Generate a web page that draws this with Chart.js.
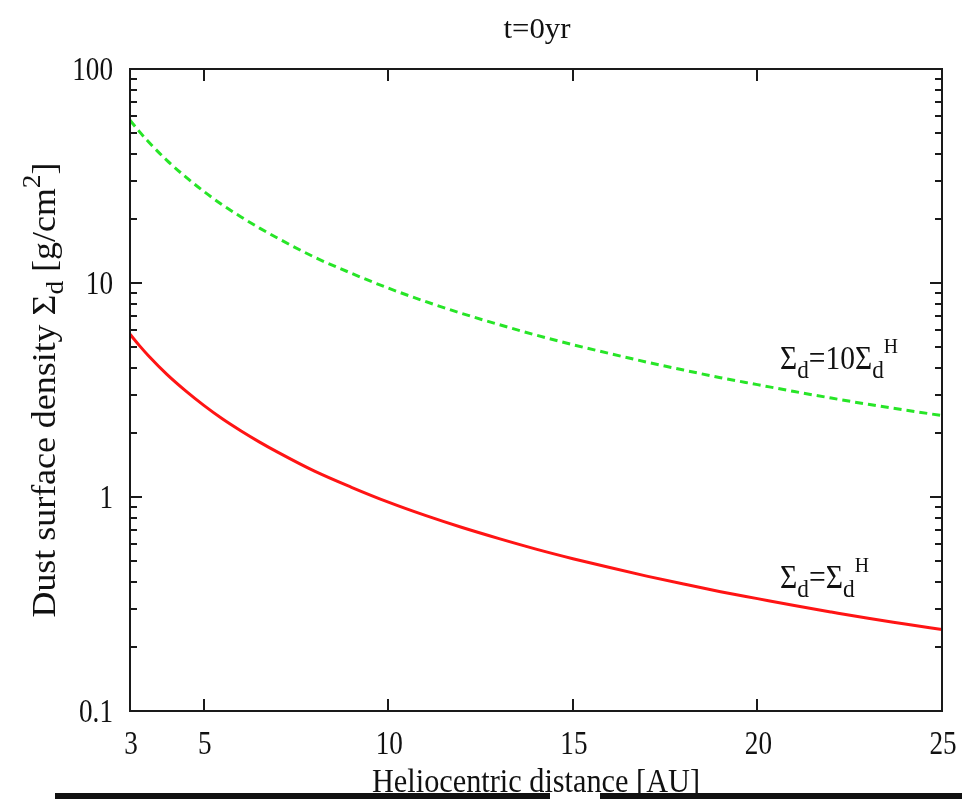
<!DOCTYPE html>
<html>
<head>
<meta charset="utf-8">
<script src="https://cdn.jsdelivr.net/npm/chart.js@4.4.1/dist/chart.umd.min.js"></script>
<style>
  html, body { margin: 0; padding: 0; background: #fff; }
  #wrap { position: relative; width: 962px; height: 799px; overflow: hidden; }
  canvas { display: block; }
  .bar { position: absolute; height: 6px; top: 793px; background: #111; }
</style>
</head>
<body>
<div id="wrap">
  <canvas id="c" width="962" height="799"></canvas>
  <div class="bar" style="left:55px;width:495px;"></div>
  <div class="bar" style="left:600px;width:362px;"></div>
</div>
<script>
// ---- data ----
const distances = [3, 3.25, 3.5, 4, 4.5, 5, 5.5, 6, 6.5, 7, 8, 9, 10, 11, 12, 13, 14, 15, 16, 17, 18, 19, 20, 21, 22, 23, 24, 25];
const sigmaH    = [5.76, 5.11, 4.57, 3.74, 3.14, 2.68, 2.32, 2.04, 1.81, 1.62, 1.32, 1.11, 0.946, 0.820, 0.720, 0.639, 0.571, 0.515, 0.468, 0.427, 0.392, 0.361, 0.335, 0.311, 0.290, 0.271, 0.255, 0.240];
const sigma10H  = [57.6, 51.1, 45.7, 37.4, 31.4, 26.8, 23.2, 20.4, 18.1, 16.2, 13.2, 11.1, 9.46, 8.20, 7.20, 6.39, 5.71, 5.15, 4.68, 4.27, 3.92, 3.61, 3.35, 3.11, 2.90, 2.71, 2.55, 2.40];
const xTicks = [3, 5, 10, 15, 20, 25];
const xTickLabels = ['3', '5', '10', '15', '20', '25'];
const yTicks = [0.1, 1, 10, 100];
const yTickLabels = ['0.1', '1', '10', '100'];
const titleText = 't=0yr';
const xTitle = 'Heliocentric distance [AU]';

const FONT = '"Liberation Serif", "DejaVu Serif", serif';

function setFont(ctx, size) { ctx.font = size + 'px ' + FONT; }

// draw a run of segments [{t, s(size), dy}] starting at x, baseline y, squeezed horizontally to targetW (or scale sx)
function drawRich(ctx, segs, x, y, opts) {
  let natural = 0;
  segs.forEach(sg => { setFont(ctx, sg.s); natural += ctx.measureText(sg.t).width; });
  const sx = opts.targetW ? opts.targetW / natural : (opts.sx || 1);
  const total = natural * sx;
  let start = x;
  if (opts.align === 'center') start = x - total / 2;
  else if (opts.align === 'right') start = x - total;
  ctx.save();
  ctx.translate(start, y);
  ctx.scale(sx, 1);
  ctx.textAlign = 'left';
  ctx.textBaseline = 'alphabetic';
  ctx.fillStyle = opts.color || '#111';
  let cx = 0;
  segs.forEach(sg => {
    setFont(ctx, sg.s);
    ctx.fillText(sg.t, cx, sg.dy || 0);
    cx += ctx.measureText(sg.t).width;
  });
  ctx.restore();
}

const framePlugin = {
  id: 'frame',
  afterDraw(chart) {
    const ctx = chart.ctx;
    const a = chart.chartArea;
    const xs = chart.scales.x, ys = chart.scales.y;
    ctx.save();
    ctx.strokeStyle = '#1a1a1a';
    ctx.lineWidth = 2;
    ctx.strokeRect(a.left, a.top, a.right - a.left, a.bottom - a.top);
    // x ticks (inward, bottom and top)
    ctx.beginPath();
    xTicks.forEach(v => {
      if (v === xs.min || v === xs.max) return;
      const px = Math.round(xs.getPixelForValue(v));
      ctx.moveTo(px, a.bottom); ctx.lineTo(px, a.bottom - 12);
      ctx.moveTo(px, a.top); ctx.lineTo(px, a.top + 12);
    });
    // y ticks: major + minor (inward, left and right)
    for (let d = 0; d < yTicks.length; d++) {
      const base = yTicks[d];
      for (let m = 1; m <= 9; m++) {
        const v = base * m;
        if (v > ys.max * 1.0001) break;
        const py = Math.round(ys.getPixelForValue(v));
        const len = m === 1 ? 12 : 7;
        ctx.moveTo(a.left, py); ctx.lineTo(a.left + len, py);
        ctx.moveTo(a.right, py); ctx.lineTo(a.right - len, py);
      }
    }
    ctx.stroke();
    ctx.restore();

    // tick labels
    yTicks.forEach((v, i) => {
      const py = ys.getPixelForValue(v);
      drawRich(ctx, [{ t: yTickLabels[i], s: 34 }], 113, py + 11, { sx: 0.8, align: 'right' });
    });
    xTicks.forEach((v, i) => {
      const px = xs.getPixelForValue(v);
      drawRich(ctx, [{ t: xTickLabels[i], s: 34 }], px + 1, 754, { sx: 0.8, align: 'center' });
    });

    // title
    const cxp = (a.left + a.right) / 2;
    drawRich(ctx, [{ t: titleText, s: 29 }], cxp + 1, 38, { targetW: 67, align: 'center' });
    // x axis title
    drawRich(ctx, [{ t: xTitle, s: 33 }], cxp, 792, { targetW: 328, align: 'center' });

    // y axis title (rotated)
    ctx.save();
    ctx.translate(55, 390);
    ctx.rotate(-Math.PI / 2);
    drawRich(ctx, [
      { t: 'Dust surface density Σ', s: 34 },
      { t: 'd', s: 26, dy: 8 },
      { t: ' [g/cm', s: 34 },
      { t: '2', s: 26, dy: -15 },
      { t: ']', s: 34 }
    ], 0, 0, { targetW: 455, align: 'center' });
    ctx.restore();

    // curve annotations
    drawRich(ctx, [
      { t: 'Σ', s: 33 }, { t: 'd', s: 26, dy: 9 }, { t: '=10Σ', s: 33 },
      { t: 'd', s: 26, dy: 9 }, { t: 'H', s: 22, dy: -16 }
    ], 780, 369, { targetW: 118 });
    drawRich(ctx, [
      { t: 'Σ', s: 33 }, { t: 'd', s: 26, dy: 9 }, { t: '=Σ', s: 33 },
      { t: 'd', s: 26, dy: 9 }, { t: 'H', s: 22, dy: -16 }
    ], 780, 588, { targetW: 89 });
  }
};

const ctx = document.getElementById('c').getContext('2d');
new Chart(ctx, {
  type: 'line',
  data: {
    datasets: [
      {
        label: 'Σd=10ΣdH',
        data: distances.map((x, i) => ({ x: x, y: sigma10H[i] })),
        borderColor: '#27e527',
        borderWidth: 3,
        borderDash: [8, 5],
        pointRadius: 0,
        cubicInterpolationMode: 'monotone',
        fill: false
      },
      {
        label: 'Σd=ΣdH',
        data: distances.map((x, i) => ({ x: x, y: sigmaH[i] })),
        borderColor: '#ff1414',
        borderWidth: 3,
        pointRadius: 0,
        cubicInterpolationMode: 'monotone',
        fill: false
      }
    ]
  },
  options: {
    responsive: false,
    animation: false,
    events: [],
    layout: { padding: { left: 0, right: 20, top: 69, bottom: 0 } },
    plugins: { legend: { display: false }, tooltip: { enabled: false }, title: { display: false } },
    scales: {
      x: {
        type: 'linear', min: 3, max: 25,
        grid: { display: false }, border: { display: false },
        ticks: { display: false },
        afterBuildTicks: s => { s.ticks = xTicks.map(v => ({ value: v })); },
        afterFit: s => { s.height = 88; }
      },
      y: {
        type: 'logarithmic', min: 0.1, max: 100,
        grid: { display: false }, border: { display: false },
        ticks: { display: false },
        afterBuildTicks: s => { s.ticks = yTicks.map(v => ({ value: v })); },
        afterFit: s => { s.width = 130; }
      }
    }
  },
  plugins: [framePlugin]
});
</script>
</body>
</html>
